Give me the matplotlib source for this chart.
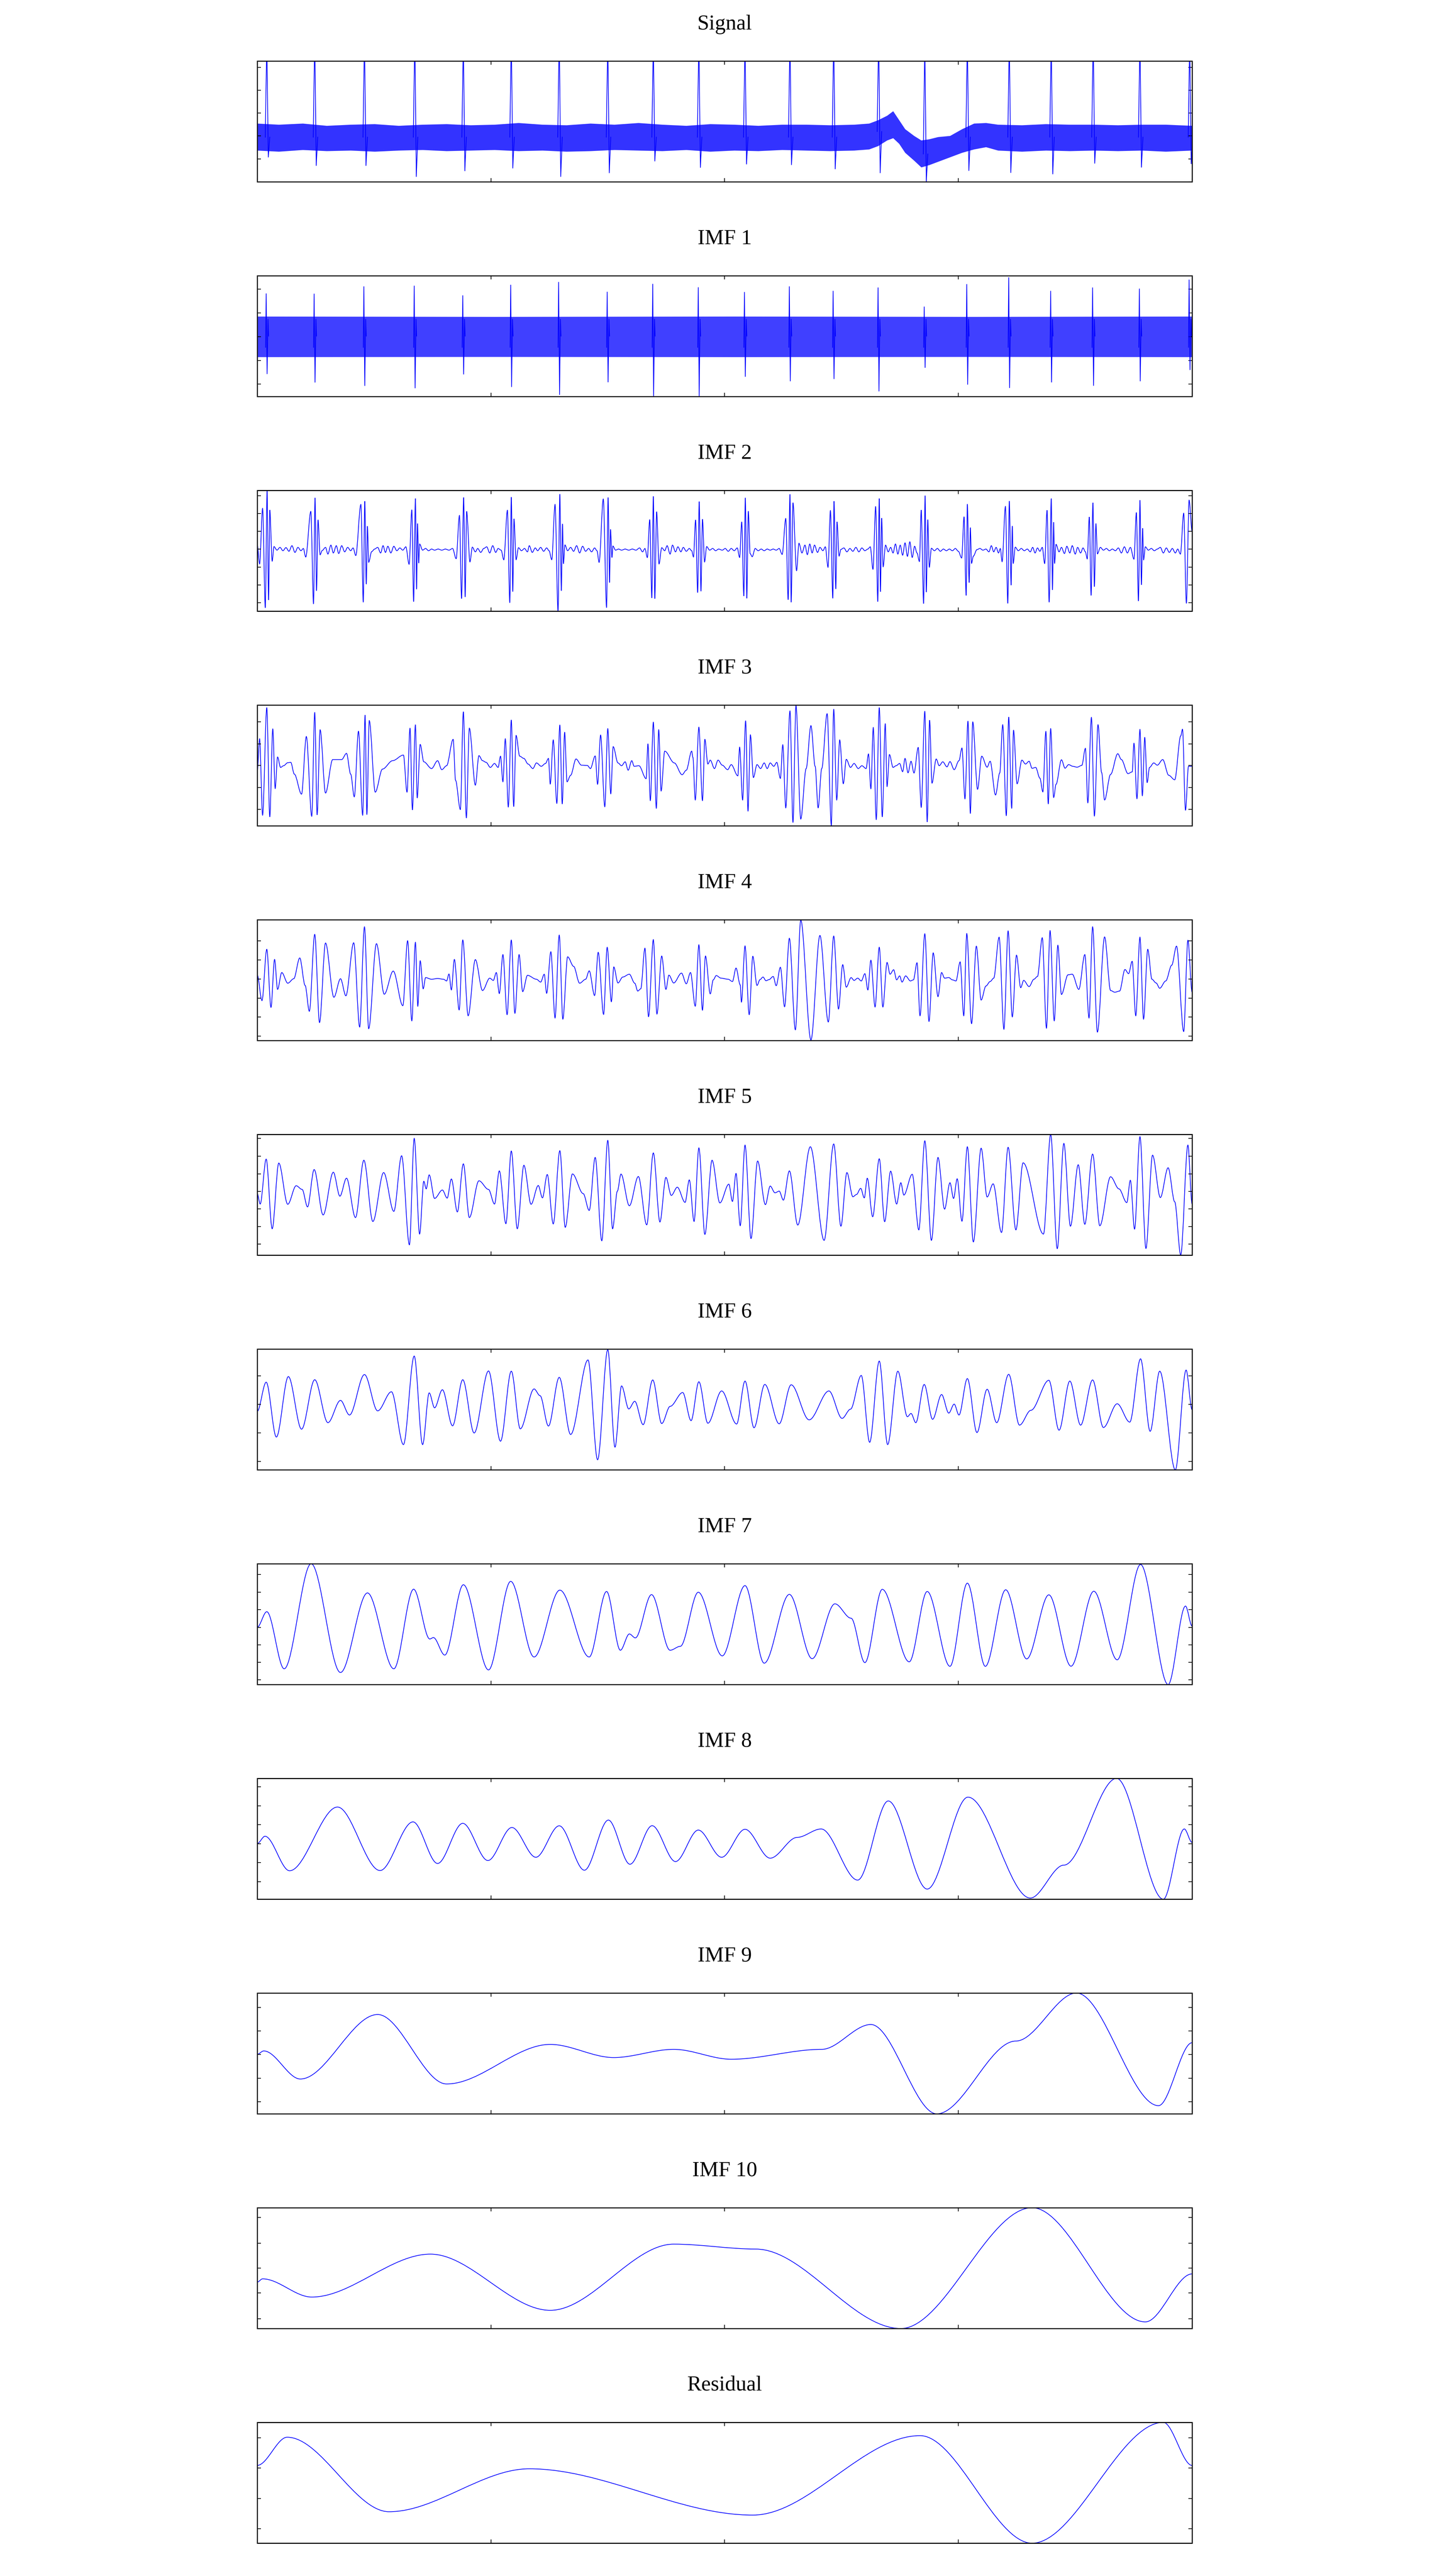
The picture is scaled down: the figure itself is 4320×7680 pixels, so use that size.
import numpy as np
import matplotlib
matplotlib.use("Agg")
import matplotlib.pyplot as plt
from matplotlib.path import Path
from matplotlib.patches import PathPatch

plt.rcParams['font.family'] = ['Liberation Serif', 'DejaVu Serif']

# time axis in samples, common amplitude window of every panel
T_START, T_END = 4, 1564
V_MIN, V_MAX = -5.38, 5.37

titles = ["Signal", "IMF 1", "IMF 2", "IMF 3", "IMF 4", "IMF 5",
          "IMF 6", "IMF 7", "IMF 8", "IMF 9", "IMF 10", "Residual"]

# ---- Signal: heart beats on top of a noisy baseline band
beat_t = [20, 100, 183, 267, 348, 428, 508, 589, 665, 741, 818,
          893, 966, 1041, 1118, 1189, 1259, 1329, 1399, 1477, 1560]
sig_r = [7.4, 7.6, 7.5, 7.8, 7.4, 7.6, 7.7, 7.5, 7.3, 7.6, 7.5,
         7.4, 7.6, 7.8, 7.2, 7.5, 7.6, 7.4, 7.5, 7.7, 7.3]
sig_s = [-3.18, -3.93, -3.93, -4.91, -4.40, -4.16, -4.91, -4.58, -3.53, -4.10, -3.80,
         -3.86, -4.23, -4.58, -5.38, -4.38, -4.56, -4.68, -3.73, -4.08, -3.77]
sig_base = [-1.4, -1.4, -1.4, -1.4, -1.4, -1.4, -1.4, -1.4, -1.4, -1.4, -1.4,
            -1.4, -1.4, -0.9, -2.9, -1.4, -1.4, -1.4, -1.4, -1.4, -1.4]
band_t = [4, 40, 80, 120, 160, 200, 240, 280, 320, 360, 400, 440, 480, 520, 560, 600, 640,
          680, 720, 760, 800, 840, 880, 920, 960, 1000, 1025, 1040, 1055, 1065, 1075, 1085,
          1100, 1112, 1125, 1140, 1160, 1180, 1200, 1220, 1240, 1280, 1320, 1360, 1400, 1440,
          1480, 1520, 1564]
band_hi = [-0.18, -0.28, -0.18, -0.38, -0.28, -0.23, -0.38, -0.28, -0.23, -0.33, -0.28, -0.13,
           -0.28, -0.33, -0.18, -0.28, -0.13, -0.28, -0.38, -0.23, -0.28, -0.38, -0.28, -0.28,
           -0.33, -0.28, -0.18, 0.12, 0.52, 0.92, 0.12, -0.68, -1.28, -1.68, -1.58, -1.38, -1.28,
           -0.68, -0.18, -0.13, -0.28, -0.33, -0.23, -0.28, -0.28, -0.33, -0.28, -0.28, -0.38]
band_lo = [-2.58, -2.68, -2.53, -2.63, -2.58, -2.68, -2.58, -2.53, -2.63, -2.58, -2.53, -2.63,
           -2.58, -2.68, -2.63, -2.53, -2.58, -2.63, -2.53, -2.68, -2.58, -2.63, -2.53, -2.58,
           -2.63, -2.58, -2.48, -2.18, -1.68, -1.48, -1.98, -2.78, -3.48, -4.08, -3.88, -3.58,
           -3.18, -2.78, -2.48, -2.28, -2.58, -2.68, -2.58, -2.63, -2.58, -2.63, -2.58, -2.68, -2.58]

# ---- IMF 1: dense carrier band plus bursts at every beat
imf1_band_t = [4, 400, 800, 1200, 1564]
imf1_band_hi = [1.75, 1.72, 1.75, 1.72, 1.75]
imf1_band_lo = [-1.86, -1.84, -1.86, -1.84, -1.86]
imf1_up = [3.77, 3.75, 4.40, 4.46, 3.60, 4.54, 4.79, 3.92, 4.62, 4.32, 3.9,
           4.4, 4.0, 4.3, 2.6, 4.6, 5.2, 4.0, 4.3, 4.2, 5.0]
imf1_down = [-3.36, -4.11, -4.41, -4.62, -3.39, -4.51, -5.21, -4.09, -5.38, -5.38, -3.6,
             -4.0, -3.8, -4.9, -2.8, -4.3, -4.6, -4.1, -4.4, -4.0, -3.0]

# ---- IMF 2 .. Residual: (sample, value) at each turning point
imf2 = [(4, 0.57), (8, -1.18), (13, 3.77), (17.5, -5.08), (20.5, 5.37), (23, -4.38), (25, 3.62), (29, -0.93), (32, 0.37),
        (37, 0.05), (42, 0.30), (47, 0.0), (52, 0.28), (57, -0.05), (62, 0.45), (67, -0.15), (72, 0.30), (77, 0.0), (81, 0.2),
        (85, -0.56), (93.5, 3.50), (98, -4.73), (100.5, 4.70), (103, -3.56), (105.5, 2.75), (109, -0.36), (112.5, 0.02),
        (118, 0.3), (122, -0.3), (127, 0.5), (131, -0.2), (136, 0.45), (140, -0.25), (145, 0.45), (150, -0.1), (155, 0.3), (160, 0.0), (164, 0.25),
        (168.5, -0.43), (177, 4.12), (181, -4.58), (183.5, 4.40), (186, -2.98), (188, 2.18), (190, -1.03), (195, -0.08),
        (200, 0.15), (205, 0.3), (210, -0.2), (214, 0.45), (218, -0.15), (222, 0.4), (227, -0.2), (232, 0.4), (237, 0.0), (242, 0.25), (247, 0.05), (252, 0.35),
        (257.5, -1.21), (262, 3.64), (265, -4.53), (268, 4.64), (270, -3.43), (271.5, 2.42), (273.5, -1.10), (275, 0.60),
        (280, 0.05), (285, 0.2), (290, 0.0), (295, 0.15), (300, 0.05), (306, 0.15), (312, 0.05), (318, 0.15), (324, 0.05), (330, 0.2),
        (336, -0.71), (341.5, 3.14), (345, -4.26), (348.5, 4.74), (351, -4.11), (353.5, 3.50), (359, -1.00), (363, 0.32),
        (368, -0.1), (372, 0.2), (377, -0.15), (382, 0.2), (387, 0.35), (392, -0.2), (397, 0.45), (402, -0.15), (406, 0.2), (411, 0.05),
        (415.5, -0.81), (421.5, 3.60), (425.5, -4.63), (428, 4.76), (430.5, -3.63), (432.5, 2.84), (436, -0.80), (440, 0.27),
        (445, 0.0), (450, 0.2), (455, -0.1), (458, 0.45), (463, -0.15), (468, 0.25), (472, 0.0), (477, 0.3), (482, -0.05), (487, 0.25), (491, 0.0),
        (495.5, -0.80), (501, 4.12), (506, -5.38), (509, 5.03), (511.5, -3.56), (513.5, 2.39), (515, -1.16), (517.5, 0.52),
        (522, 0.0), (527, 0.3), (532, -0.05), (537, 0.45), (542, -0.2), (547, 0.4), (552, -0.05), (557, 0.2), (562, -0.1), (567, 0.25), (571, 0.0),
        (574.5, -1.04), (581.5, 4.60), (587, -5.06), (589.5, 4.74), (592, -2.83), (593.5, 1.90), (596, -0.60), (597.5, 0.42),
        (602, 0.05), (607, 0.15), (612, 0.05), (618, 0.15), (624, 0.05), (630, 0.15), (636, 0.05), (642, 0.25), (647, -0.1), (651, 0.2),
        (655, -0.61), (659, 2.77), (662.5, -4.20), (665, 4.84), (667.5, -4.26), (670.5, 3.47), (674.5, -1.18), (679, 0.27),
        (684, 0.0), (688, 0.45), (693, -0.3), (697, 0.5), (702, -0.1), (706, 0.35), (711, -0.1), (715, 0.3), (720, -0.05), (725, 0.2), (729, 0.0),
        (732, -0.56), (735.5, 2.74), (739, -3.73), (741.5, 4.37), (744.5, -3.60), (747, 2.80), (750.5, -1.00), (754, 0.37),
        (759, 0.05), (764, 0.2), (769, 0.0), (774, 0.15), (780, 0.05), (785, 0.2), (790, -0.05), (795, 0.2), (800, 0.0), (805, 0.25),
        (809, -0.60), (812.5, 2.57), (816, -4.03), (818.5, 4.70), (821, -4.23), (823.5, 3.52), (826.5, -0.26), (830, -0.53),
        (835, 0.2), (840, 0.0), (845, 0.15), (850, 0.0), (855, 0.15), (860, 0.05), (865, 0.15), (870, 0.05), (875, 0.2),
        (880, -0.33), (886, 2.87), (890, -4.36), (893, 5.02), (895, -4.58), (898, 4.27), (904, -1.78), (908, 0.67),
        (913, -0.2), (918, 0.5), (922, -0.35), (926, 0.6), (930, -0.2), (934, 0.5), (939, -0.15), (943, 0.3), (948, 0.0), (952, 0.35),
        (956.5, -1.48), (960.5, 3.57), (964.5, -4.23), (966.5, 4.40), (969.5, -3.40), (971.5, 2.57), (975, -0.48), (978, 0.12),
        (983, 0.25), (988, -0.1), (993, 0.2), (998, -0.05), (1003, 0.3), (1008, -0.1), (1013, 0.25), (1018, 0.0), (1023, 0.15), (1027, 0.35),
        (1031.5, -1.65), (1036, 3.94), (1039.5, -4.53), (1042, 4.64), (1044, -3.65), (1046, 2.90), (1048.5, -1.43), (1052.5, 0.50),
        (1057, -0.1), (1061, 0.3), (1065, -0.2), (1069, 0.6), (1073, -0.3), (1077, 0.5), (1081, -0.4), (1085, 0.7), (1089, -0.5), (1093, 0.8), (1097, -0.6), (1101, 0.4), (1105, -0.2),
        (1109, -0.96), (1112, 3.62), (1116, -4.70), (1118.5, 4.90), (1120.5, -3.68), (1123, 2.77), (1125.5, -1.48), (1129, 0.22),
        (1134, 0.0), (1139, 0.2), (1144, -0.05), (1149, 0.15), (1154, 0.0), (1159, 0.15), (1164, 0.0), (1169, 0.2), (1174, -0.05),
        (1179.5, -0.65), (1183.5, 3.02), (1187, -3.98), (1189, 4.15), (1192, -2.83), (1194, 2.06), (1196, -1.12), (1199, -0.48),
        (1205, 0.1), (1210, 0.2), (1215, 0.05), (1220, 0.15), (1225, -0.1), (1229, 0.45), (1233, -0.1), (1237, 0.3), (1241, -0.2), (1244, 0.2),
        (1247, -0.98), (1252.5, 3.94), (1256.5, -4.68), (1259, 4.42), (1262, -3.06), (1264, 2.20), (1265.5, -1.14), (1269, 0.32),
        (1274, 0.0), (1279, 0.2), (1284, 0.0), (1289, 0.15), (1294, -0.1), (1298, 0.3), (1302, -0.2), (1306, 0.25), (1310, -0.05), (1314, 0.3),
        (1318, -1.14), (1322, 3.60), (1325.5, -4.58), (1329, 4.64), (1331, -3.48), (1333, 2.54), (1334.5, -1.14), (1337, 0.57),
        (1342, -0.1), (1346, 0.3), (1351, -0.25), (1355, 0.4), (1360, -0.2), (1364, 0.45), (1369, -0.3), (1373, 0.3), (1378, -0.2), (1382, 0.25), (1386, -0.1),
        (1389, -0.73), (1392.5, 3.00), (1395.5, -3.98), (1398.5, 4.27), (1401, -3.20), (1403.5, 2.42), (1406, -0.28),
        (1411, 0.3), (1416, 0.05), (1421, 0.2), (1426, 0.0), (1431, 0.15), (1436, 0.0), (1441, 0.25), (1446, -0.2), (1451, 0.35), (1456, -0.2), (1461, 0.3),
        (1467, -0.75), (1471, 3.40), (1474.5, -4.48), (1477, 4.49), (1479.5, -3.03), (1481.5, 2.00), (1483, -0.83), (1486, 0.35),
        (1491, 0.05), (1496, 0.2), (1501, 0.0), (1506, 0.15), (1511, 0.3), (1516, -0.2), (1521, 0.25), (1526, -0.15), (1531, 0.2), (1536, -0.2), (1540, 0.15),
        (1544.5, -0.30), (1550, 3.34), (1554.5, -4.68), (1559, 4.5), (1564, 1.72)]

imf3 = [(4, -0.63), (8, 2.37), (13, -4.43), (20, 5.14), (25, -4.58), (30, 3.24), (34, -2.06), (38, 0.75), (43, -0.18), (48, -0.03),
        (55, 0.24), (60, 0.27), (66, -0.78), (78, -2.56), (86, 2.57), (95, -4.53), (100, 4.72), (104, -4.40), (109, 3.17), (118, -2.46),
        (130, 0.52), (145, 0.52), (153, 1.07), (160, -0.78), (166, -2.80), (173, 3.04), (180, -4.43), (184, 4.48), (187, -4.38), (191, 3.99),
        (201, -2.38), (213, -0.33), (230, 0.42), (248, 0.92), (254, -2.38), (259, 3.30), (263, -3.96), (268, 3.62), (271, -2.90), (276, 1.87),
        (282, 0.32), (295, -0.28), (305, 0.42), (312, -0.38), (320, -0.03), (331, 2.32), (335, -1.33), (343, -3.93), (348, 4.77), (353, -4.68),
        (358, 3.32), (368, -1.76), (374, 0.87), (380, 0.42), (386, 0.27), (393, -0.18), (400, 0.17), (406, -0.18), (410, 0.82), (414, -1.46),
        (418, 2.37), (423, -3.70), (428, 4.04), (432, -3.66), (436, 2.67), (442, 0.82), (449, 0.62), (456, 0.12), (464, -0.28), (470, 0.22),
        (478, -0.08), (485, 0.17), (490, 0.62), (493, -1.66), (498, 2.27), (504, -3.38), (509, 3.60), (513, -3.43), (517, 2.94), (521, -1.46),
        (527, -0.88), (536, 0.57), (545, 0.02), (555, -0.01), (560, -0.28), (568, 0.84), (572, -1.68), (577, 2.70), (584, -3.68), (589, 3.27),
        (594, -2.53), (598, 1.67), (606, 0.22), (612, -0.03), (618, 0.32), (623, -0.43), (629, 0.42), (633, -0.08), (641, -0.03), (653, -1.18),
        (656, 1.92), (660, -3.13), (665, 3.84), (670, -3.83), (674, 3.17), (678, -2.28), (684, 1.27), (700, 0.22), (713, -0.83), (720, -0.43),
        (729, 1.27), (731, 0.72), (735, -3.08), (741, 3.40), (747, -3.13), (751, 2.32), (756, 0.12), (760, 0.47), (767, -0.28), (773, 0.47),
        (780, 0.02), (789, -0.38), (795, 0.07), (806, -0.93), (809, 1.62), (814, -3.08), (819, 3.97), (823, -4.08), (827, 2.72), (832, -1.08),
        (838, 0.07), (844, -0.28), (850, 0.22), (855, -0.28), (860, 0.22), (866, -0.08), (871, 0.27), (877, -1.16), (881, 1.84), (886, -3.78),
        (893, 4.84), (898, -5.08), (903, 5.34), (911, -4.78), (920, -0.28), (928, 3.54), (935, -0.08), (940, -3.78), (946, -0.28), (955, 4.60),
        (962, -5.33), (966, 5.00), (971, -3.08), (976, 2.27), (982, -1.63), (987, 0.54), (994, -0.18), (1000, 0.17), (1007, -0.28), (1013, -0.03),
        (1020, -0.28), (1024, 1.02), (1028, -2.08), (1032, 3.37), (1037, -4.83), (1042, 5.14), (1047, -4.58), (1052, 3.72), (1055, -1.88), (1059, 0.97),
        (1065, -0.18), (1070, -0.03), (1076, 0.17), (1081, -0.56), (1085, 0.62), (1090, -0.66), (1095, 0.37), (1100, -0.68), (1107, 1.60), (1112, -3.73),
        (1118, 4.82), (1122, -5.03), (1126, 4.02), (1130, -1.58), (1137, 0.57), (1142, -0.03), (1148, 0.32), (1155, -0.13), (1160, 0.34), (1167, -0.38),
        (1175, 0.42), (1180, 1.55), (1185, -2.98), (1190, 3.94), (1194, -4.28), (1198, 3.87), (1206, -2.13), (1213, 0.82), (1222, -0.16), (1227, 0.37),
        (1236, -2.63), (1243, -0.68), (1248, 3.62), (1254, -4.48), (1258, 4.30), (1263, -3.83), (1266, 3.14), (1272, -1.64), (1280, 0.47), (1286, 0.12),
        (1292, 0.37), (1297, -0.26), (1303, -0.18), (1310, -1.13), (1315, -2.36), (1320, 3.02), (1324, -3.43), (1328, 3.27), (1333, -2.86), (1337, -1.68),
        (1346, 0.50), (1352, -0.25), (1358, 0.07), (1365, -0.08), (1372, -0.16), (1380, 0.00), (1386, 1.52), (1390, -3.33), (1396, 4.27), (1401, -4.50),
        (1407, 3.62), (1413, -0.63), (1418, -3.08), (1428, -0.80), (1440, 1.04), (1446, 0.52), (1457, -0.73), (1464, -0.58), (1467, 1.97), (1472, -2.96),
        (1477, 3.20), (1481, -2.70), (1485, 2.49), (1489, -1.53), (1493, -0.18), (1500, 0.22), (1506, 0.02), (1515, 0.52), (1525, -0.88), (1535, -1.28),
        (1545, 2.62), (1548, 3.22), (1553, -3.98), (1558, -0.08), (1564, -0.08)]

imf4 = [(4, 0.47), (12, -1.83), (20, 2.74), (27, -2.43), (33, 1.84), (38, -0.83), (45, 0.67), (55, -0.28), (65, 0.12), (75, 1.97),
        (84, -0.48), (91, -2.78), (100, 4.07), (108, -3.78), (118, 3.30), (132, -1.53), (143, 0.12), (152, -1.40), (165, 3.32), (175, -4.18),
        (183, 4.74), (190, -4.33), (203, 3.24), (216, -1.26), (231, 0.80), (247, -2.28), (255, 3.50), (262, -3.63), (268, 3.36), (272, -2.33),
        (276, 1.72), (281, -0.78), (285, 0.22), (295, 0.07), (305, 0.14), (315, 0.07), (320, -0.08), (324, 0.54), (328, -0.88), (333, 1.84),
        (341, -2.66), (347, 3.57), (356, -3.18), (368, 1.82), (380, -0.93), (392, 0.17), (398, -0.03), (403, 0.67), (408, -1.20), (414, 2.27),
        (421, -3.08), (428, 3.56), (434, -2.96), (441, 2.27), (447, -1.03), (455, 0.42), (470, 0.07), (477, -0.18), (483, 0.52), (487, -1.18),
        (494, 2.52), (501, -3.38), (508, 4.00), (514, -3.48), (522, 2.07), (532, 1.22), (542, -0.28), (552, 0.07), (558, 0.82), (567, -1.38),
        (573, 2.47), (582, -3.06), (588, 2.92), (595, -1.93), (599, 1.17), (606, -0.26), (614, 0.27), (625, 0.52), (634, -0.28), (639, -0.98),
        (644, -0.78), (651, 2.84), (657, -3.26), (665, 3.60), (671, -3.03), (679, 2.14), (686, -0.83), (691, 0.44), (699, -0.26), (712, 0.62),
        (720, -0.33), (727, 0.67), (735, -2.33), (741, 3.14), (747, -2.68), (752, 2.14), (760, -1.23), (765, 0.02), (770, 0.40), (778, 0.17),
        (790, 0.07), (797, -0.13), (803, 1.07), (810, -0.43), (812, -1.96), (818, 3.04), (825, -3.08), (831, 2.12), (838, -0.48), (843, 0.04),
        (848, 0.27), (853, -0.06), (858, 0.04), (865, 0.32), (870, -0.50), (877, 1.14), (884, -2.38), (892, 3.72), (902, -4.43), (911, 5.34),
        (928, -5.33), (943, 3.97), (957, -3.73), (966, 3.92), (974, -2.58), (981, 1.37), (987, -0.63), (995, 0.22), (1000, -0.03), (1006, 0.17),
        (1012, -0.08), (1018, 0.57), (1023, -0.88), (1028, 1.77), (1035, -2.40), (1042, 2.92), (1048, -2.40), (1055, 1.57), (1060, 0.52), (1066, 0.92),
        (1071, 0.02), (1076, 0.37), (1080, -0.18), (1086, 0.37), (1094, -0.08), (1099, 0.02), (1105, 1.54), (1110, -3.18), (1118, 4.12), (1125, -3.68),
        (1132, 2.42), (1140, -1.48), (1146, 0.67), (1151, 0.17), (1158, 0.22), (1164, 0.02), (1170, -0.08), (1177, 1.62), (1183, -3.18), (1188, 4.14),
        (1196, -3.88), (1204, 3.02), (1212, -1.78), (1220, -0.53), (1227, -0.13), (1233, 0.17), (1242, 3.82), (1250, -4.38), (1257, 4.37), (1264, -3.28),
        (1271, 2.22), (1278, -0.68), (1283, -0.03), (1292, -0.58), (1300, 0.07), (1306, 0.32), (1314, 3.77), (1321, -4.28), (1327, 4.40), (1334, -3.63),
        (1340, 3.10), (1346, -1.28), (1357, 0.47), (1364, 0.52), (1375, -0.83), (1385, 2.27), (1392, -3.38), (1398, 4.74), (1406, -4.63), (1418, 3.84),
        (1428, -0.93), (1435, -1.08), (1443, -0.98), (1452, 0.94), (1458, 0.57), (1464, 1.67), (1470, -3.18), (1477, 3.82), (1483, -3.48), (1490, 2.74),
        (1497, 0.07), (1504, -0.26), (1510, -0.73), (1520, -0.08), (1530, 1.32), (1538, 3.02), (1550, -4.58), (1557, 3.54), (1564, -1.08)]

imf5 = [(4, 0.12), (9, -0.83), (19, 3.17), (29, -3.03), (40, 2.82), (55, -0.85), (69, 0.80), (79, 0.47), (88, -1.08), (99, 2.24),
        (114, -1.80), (131, 2.00), (142, -0.13), (153, 1.47), (168, -2.03), (182, 3.07), (197, -2.38), (215, 1.97), (232, -1.48), (245, 3.47),
        (258, -4.46), (266, 5.02), (275, -3.50), (282, 1.20), (286, 0.52), (291, 1.77), (300, -0.33), (313, 0.42), (321, -0.30), (328, 1.40),
        (338, -1.53), (348, 2.75), (358, -2.03), (374, 1.24), (390, 0.47), (400, -0.83), (408, 2.12), (419, -2.58), (428, 3.89), (438, -3.03),
        (449, 2.62), (461, -0.85), (473, 0.82), (480, -0.28), (488, 1.80), (498, -2.60), (509, 3.92), (518, -2.90), (530, 1.85), (548, 0.10),
        (558, -1.40), (568, 3.32), (579, -4.10), (589, 4.84), (597, -3.03), (605, 0.32), (611, 1.84), (625, -0.98), (640, 1.62), (654, -2.68),
        (665, 3.72), (676, -2.43), (686, 1.54), (695, -0.06), (705, 0.67), (718, -0.68), (725, 1.32), (733, -2.38), (741, 4.17), (751, -3.53),
        (763, 3.07), (776, -0.73), (791, 0.94), (797, -0.60), (803, 1.90), (810, -2.76), (818, 4.42), (828, -3.90), (839, 3.00), (852, -0.88),
        (860, 0.77), (868, 0.17), (875, 0.32), (882, -0.48), (892, 2.12), (906, -2.70), (927, 4.27), (950, -4.06), (966, 4.52), (978, -2.80),
        (988, 1.97), (998, -0.18), (1004, 0.02), (1011, 0.57), (1017, -0.28), (1022, 1.47), (1031, -1.96), (1042, 3.20), (1051, -2.40), (1061, 2.10),
        (1071, -0.83), (1078, 1.07), (1083, -0.03), (1097, 1.82), (1108, -3.13), (1118, 4.80), (1129, -4.06), (1140, 3.32), (1151, -1.28), (1160, 1.07),
        (1166, -0.33), (1172, 1.42), (1180, -2.36), (1189, 4.27), (1199, -4.20), (1212, 4.14), (1222, -0.20), (1232, 0.97), (1246, -3.36), (1257, 4.22),
        (1270, -3.13), (1282, 2.84), (1316, -3.50), (1328, 5.37), (1339, -4.80), (1350, 4.57), (1361, -2.80), (1374, 2.67), (1385, -2.63), (1398, 3.62),
        (1410, -2.76), (1428, 1.60), (1442, 0.52), (1455, -0.70), (1461, 1.29), (1468, -3.06), (1477, 5.17), (1487, -4.78), (1498, 3.52), (1511, -0.25),
        (1524, 2.40), (1535, -0.63), (1545, -5.36), (1557, 4.42), (1564, -0.83)]

imf6 = [(4, -0.18), (19, 2.42), (36, -2.46), (56, 2.92), (78, -1.76), (100, 2.64), (122, -1.18), (143, 0.80), (158, -0.50), (183, 3.10),
        (205, -0.13), (228, 1.57), (248, -3.13), (266, 4.75), (280, -3.13), (291, 1.47), (300, 0.14), (313, 1.75), (330, -1.46), (347, 2.64),
        (366, -2.10), (390, 3.42), (410, -2.83), (428, 3.40), (443, -1.73), (466, 1.82), (476, 1.22), (490, -1.48), (508, 2.85), (527, -2.23),
        (556, 4.40), (572, -4.48), (589, 5.32), (601, -3.36), (612, 2.09), (624, 0.04), (634, 0.72), (648, -1.36), (664, 2.62), (679, -1.26),
        (693, 0.27), (714, 1.50), (728, -1.00), (741, 2.46), (756, -1.23), (779, 1.64), (804, -1.30), (818, 2.52), (833, -1.63), (851, 2.22),
        (875, -1.28), (895, 2.19), (925, -0.93), (958, 1.64), (980, -0.80), (994, 0.02), (1012, 3.02), (1026, -2.93), (1042, 4.30), (1056, -3.13),
        (1073, 3.40), (1089, -0.65), (1095, -0.36), (1103, -1.18), (1117, 2.22), (1131, -0.88), (1146, 1.32), (1158, -0.33), (1167, 0.47), (1175, -0.50),
        (1189, 2.74), (1205, -2.06), (1222, 1.79), (1238, -1.18), (1258, 3.12), (1276, -1.40), (1295, -0.08), (1325, 2.59), (1342, -1.85), (1360, 2.52),
        (1378, -1.40), (1398, 2.62), (1416, -1.61), (1439, 0.50), (1460, -1.13), (1478, 4.50), (1494, -1.95), (1510, 3.40), (1536, -5.38), (1554, 3.50),
        (1564, -0.03)]

imf7 = [(4, -0.28), (20, 1.10), (49, -3.98), (94, 5.37), (143, -4.31), (188, 2.77), (232, -3.98), (265, 3.10), (292, -1.33), (298, -1.20),
        (317, -2.76), (348, 3.50), (390, -4.08), (427, 3.80), (466, -2.93), (509, 3.02), (558, -2.93), (587, 2.90), (610, -2.33), (625, -0.88),
        (635, -1.23), (662, 2.62), (693, -2.33), (710, -1.98), (740, 2.83), (780, -2.83), (818, 3.42), (850, -3.48), (892, 2.64), (930, -3.08),
        (968, 1.80), (995, 0.52), (1018, -3.43), (1047, 3.09), (1092, -3.36), (1122, 2.90), (1160, -3.76), (1189, 3.64), (1219, -3.76), (1253, 3.05),
        (1288, -3.10), (1325, 2.60), (1362, -3.75), (1400, 2.92), (1439, -3.18), (1478, 5.30), (1524, -5.38), (1553, 1.60), (1564, -0.18)]

imf8 = [(4, -0.43), (17, 0.22), (58, -2.85), (138, 2.82), (209, -2.83), (264, 1.50), (305, -2.20), (347, 1.37), (389, -1.94), (429, 1.00),
        (469, -1.65), (508, 1.15), (550, -2.80), (590, 1.66), (626, -2.27), (663, 1.16), (702, -2.03), (740, 0.77), (779, -1.65), (818, 0.84),
        (860, -1.73), (905, 0.12), (945, 0.87), (1006, -3.68), (1057, 3.36), (1122, -4.48), (1190, 3.70), (1294, -5.28), (1350, -2.35), (1438, 5.37),
        (1516, -5.38), (1551, 0.87), (1564, -0.33)]

imf9 = [(4, -0.08), (15, 0.22), (76, -2.28), (205, 3.46), (320, -2.72), (493, 0.80), (599, -0.37), (699, 0.36), (795, -0.52), (946, 0.36),
        (1028, 2.57), (1138, -5.38), (1270, 1.10), (1371, 5.37), (1508, -4.65), (1564, 0.95)]

imf10 = [(4, -1.25), (13, -0.96), (95, -2.58), (293, 1.24), (493, -3.76), (699, 2.13), (836, 1.69), (1078, -5.38), (1297, 5.37),
         (1486, -4.79), (1564, -0.52)]

residual = [(4, 1.54), (54, 4.05), (224, -2.58), (458, 1.24), (831, -2.88), (1110, 4.19), (1297, -5.38), (1516, 5.37), (1564, 1.54)]

# y tick positions of each panel (no labels are printed)
yticks = [
    [4.80, 2.76, 0.73, -1.30, -3.33, -5.36],
    [4.18, 2.06, -0.05, -2.17, -4.26],
    [4.89, 3.30, 1.72, 0.14, -1.45, -3.04, -4.63],
    [3.87, 1.92, -0.01, -1.96, -3.90],
    [3.50, 1.80, 0.10, -1.60, -3.30, -5.00],
    [5.00, 3.43, 1.86, 0.29, -1.27, -2.83, -4.40],
    [2.99, 0.45, -2.08, -4.63],
    [4.41, 2.84, 1.27, -0.29, -1.85, -3.41, -4.97],
    [4.62, 2.93, 1.24, -0.44, -2.13, -3.82],
    [4.1, 2.0, -0.1, -2.2, -4.3],
    [4.5, 2.2, 0.0, -2.2, -4.5],
    [4.0, 1.3, -1.4, -4.1],
]


def smooth_curve(ax, pts):
    # cubic pieces through the turning points, flat at every point
    t, v = np.array(pts, dtype=float).T
    verts = [(t[0], v[0])]
    codes = [Path.MOVETO]
    for i in range(1, len(t)):
        h = (t[i] - t[i - 1]) / 3.0
        verts += [(t[i - 1] + h, v[i - 1]), (t[i] - h, v[i]), (t[i], v[i])]
        codes += [Path.CURVE4] * 3
    ax.add_patch(PathPatch(Path(verts, codes), fill=False, edgecolor='b', lw=1.5))


fig = plt.figure(figsize=(43.2, 76.8), dpi=100)
axes = []
for i in range(12):
    top = (182 + 640 * i) / 7680
    ax = fig.add_axes([0.1775, 1 - top - 0.0469, 0.6452, 0.0469])
    axes.append(ax)

# Signal
ax = axes[0]
ax.fill_between(band_t, band_lo, band_hi, color='b', alpha=0.8, lw=0)
for tb, r, s, b in zip(beat_t, sig_r, sig_s, sig_base):
    ax.plot([tb - 2.5, tb, tb + 2.5, tb + 5], [b, r, s, b], color='b', lw=1.5)

# IMF 1
ax = axes[1]
ax.fill_between(imf1_band_t, imf1_band_lo, imf1_band_hi, color='b', alpha=0.75, lw=0)
for tb, up, dn in zip(beat_t, imf1_up, imf1_down):
    ax.plot([tb - 2, tb - 1, tb + 0.5, tb + 2, tb + 3], [-1.0, up, dn, 1.5, 0.0], color='b', lw=1.5)

for ax, pts in zip(axes[2:], [imf2, imf3, imf4, imf5, imf6, imf7, imf8, imf9, imf10, residual]):
    smooth_curve(ax, pts)

for ax, name, yt in zip(axes, titles, yticks):
    ax.set_xlim(T_START, T_END)
    ax.set_ylim(V_MIN, V_MAX)
    ax.set_xticks(np.linspace(T_START, T_END, 5))
    ax.set_yticks(yt)
    ax.tick_params(direction='in', length=8, width=1.5, top=True, right=True,
                   labelbottom=False, labelleft=False)
    for sp in ax.spines.values():
        sp.set_linewidth(2.2)
    ax.set_title(name, fontsize=46, pad=68)

fig.savefig("out.png", dpi=100, facecolor='white')
